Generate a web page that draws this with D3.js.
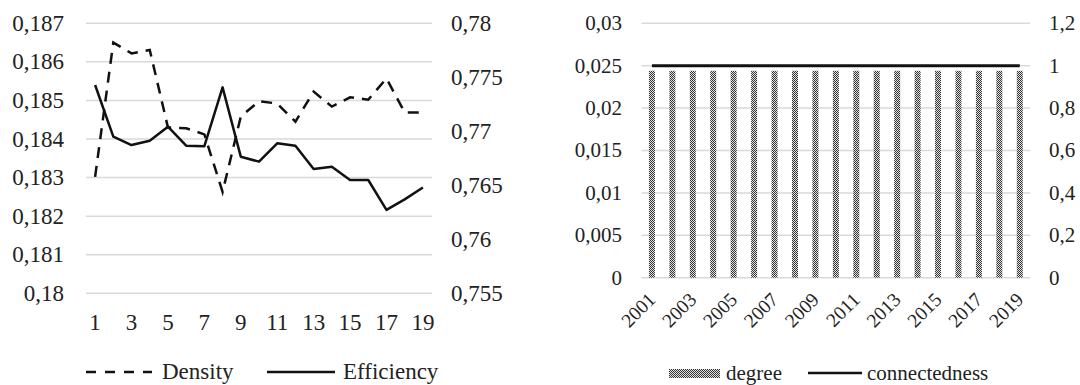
<!DOCTYPE html>
<html><head><meta charset="utf-8">
<script src="https://cdn.jsdelivr.net/npm/d3@7"></script>
<style>
html,body{margin:0;padding:0;background:#fff;}
svg{display:block;}
</style></head>
<body>
<svg id="chart" width="1080" height="385"></svg>
<script>
// ---- Left chart data ----
const periods = [1,2,3,4,5,6,7,8,9,10,11,12,13,14,15,16,17,18,19];
const periodTicks = [1,3,5,7,9,11,13,15,17,19];
const density = [0.18302,0.1865,0.18622,0.18631,0.1843,0.18428,0.18412,0.18263,0.18458,0.18498,0.18492,0.18445,0.18523,0.18484,0.18508,0.18502,0.18557,0.18469,0.18469];
const efficiency = [0.77429,0.7695,0.76873,0.76913,0.77043,0.76867,0.76862,0.77407,0.76765,0.76719,0.76889,0.76867,0.76651,0.76672,0.76549,0.76549,0.76272,0.7637,0.7648];
const densityTicks = [0.18,0.181,0.182,0.183,0.184,0.185,0.186,0.187];
const efficiencyTicks = [0.755,0.76,0.765,0.77,0.775,0.78];

// ---- Right chart data ----
const years = [2001,2002,2003,2004,2005,2006,2007,2008,2009,2010,2011,2012,2013,2014,2015,2016,2017,2018,2019];
const yearTicks = [2001,2003,2005,2007,2009,2011,2013,2015,2017,2019];
const degree = [0.0244,0.0244,0.0244,0.0244,0.0244,0.0244,0.0244,0.0244,0.0244,0.0244,0.0244,0.0244,0.0244,0.0244,0.0244,0.0244,0.0244,0.0244,0.0244];
const connectedness = [1,1,1,1,1,1,1,1,1,1,1,1,1,1,1,1,1,1,1];
const degreeTicks = [0,0.005,0.01,0.015,0.02,0.025,0.03];
const connTicks = [0,0.2,0.4,0.6,0.8,1,1.2];

const FONT = "'Liberation Serif', 'Times New Roman', Times, Tinos, 'Noto Serif', 'DejaVu Serif', FreeSerif, serif";
const fmt = v => String(+v.toFixed(4)).replace('.', ',');
const svg = d3.select('#chart').style('font-family', FONT);
const gridColor = '#d9d9d9';

// pattern
const defs = svg.append('defs');
const pat = defs.append('pattern').attr('id','checker').attr('patternUnits','userSpaceOnUse')
  .attr('width',2).attr('height',2);
pat.append('rect').attr('width',2).attr('height',2).attr('fill','#e2e2e2');
pat.append('rect').attr('width',1).attr('height',1).attr('fill','#333');
pat.append('rect').attr('x',1).attr('y',1).attr('width',1).attr('height',1).attr('fill','#333');

function txt(sel){ return sel.style('font-family', FONT).attr('fill','#222'); }

// ================= LEFT CHART =================
(function(){
  const L = {x0:86, x1:432, yTop:23.3, yBot:293.3};
  const fs = 23;
  const x = d3.scalePoint().domain(periods).range([L.x0, L.x1]).padding(0.5);
  const yL = d3.scaleLinear().domain([0.18,0.187]).range([L.yBot, L.yTop]);
  const yR = d3.scaleLinear().domain([0.755,0.78]).range([L.yBot, L.yTop]);
  const g = svg.append('g');

  g.selectAll('line.grid').data(densityTicks).join('line')
    .attr('x1',L.x0).attr('x2',L.x1).attr('y1',d=>yL(d)).attr('y2',d=>yL(d))
    .attr('stroke',gridColor).attr('stroke-width',1.5);

  txt(g.selectAll('text.yl').data(densityTicks).join('text'))
    .attr('x',64).attr('y',d=>yL(d)).attr('dy','0.33em').attr('text-anchor','end')
    .attr('font-size',fs).text(fmt);
  txt(g.selectAll('text.yr').data(efficiencyTicks).join('text'))
    .attr('x',451).attr('y',d=>yR(d)).attr('dy','0.33em').attr('text-anchor','start')
    .attr('font-size',fs).text(fmt);
  txt(g.selectAll('text.xl').data(periodTicks).join('text'))
    .attr('x',d=>x(d)).attr('y',330).attr('text-anchor','middle')
    .attr('font-size',fs).text(d=>d);

  const lineD = d3.line().x((d,i)=>x(periods[i])).y(d=>yL(d));
  const lineE = d3.line().x((d,i)=>x(periods[i])).y(d=>yR(d));
  g.append('path').attr('d',lineD(density)).attr('fill','none').attr('stroke','#111')
    .attr('stroke-width',2.5).attr('stroke-dasharray','11,8');
  g.append('path').attr('d',lineE(efficiency)).attr('fill','none').attr('stroke','#111')
    .attr('stroke-width',2.5).attr('stroke-linejoin','round');

  // legend
  g.append('line').attr('x1',86).attr('x2',152).attr('y1',372).attr('y2',372)
    .attr('stroke','#111').attr('stroke-width',2.5).attr('stroke-dasharray','10,9');
  txt(g.append('text')).attr('x',162).attr('y',379).attr('font-size',fs).text('Density');
  g.append('line').attr('x1',267).attr('x2',335).attr('y1',372).attr('y2',372)
    .attr('stroke','#111').attr('stroke-width',2.5);
  txt(g.append('text')).attr('x',343).attr('y',379).attr('font-size',fs).text('Efficiency');
})();

// ================= RIGHT CHART =================
(function(){
  const R = {x0:641.7, x1:1030, yTop:23.3, yBot:277.7};
  const fs = 21;
  const x = d3.scaleBand().domain(years).range([R.x0, R.x1]);
  const yL = d3.scaleLinear().domain([0,0.03]).range([R.yBot, R.yTop]);
  const yR = d3.scaleLinear().domain([0,1.2]).range([R.yBot, R.yTop]);
  const g = svg.append('g');

  g.selectAll('line.grid').data(degreeTicks).join('line')
    .attr('x1',R.x0).attr('x2',R.x1).attr('y1',d=>yL(d)).attr('y2',d=>yL(d))
    .attr('stroke',gridColor).attr('stroke-width',1.5);

  txt(g.selectAll('text.yl').data(degreeTicks).join('text'))
    .attr('x',622).attr('y',d=>yL(d)).attr('dy','0.33em').attr('text-anchor','end')
    .attr('font-size',fs).text(fmt);
  txt(g.selectAll('text.yr').data(connTicks).join('text'))
    .attr('x',1049).attr('y',d=>yR(d)).attr('dy','0.33em').attr('text-anchor','start')
    .attr('font-size',fs).text(fmt);

  const bw = 6;
  g.selectAll('rect.bar').data(degree).join('rect')
    .attr('x',(d,i)=>x(years[i])+x.bandwidth()/2-bw/2).attr('width',bw)
    .attr('y',d=>yL(d)).attr('height',d=>yL(0)-yL(d))
    .attr('fill','url(#checker)');

  const lineC = d3.line().x((d,i)=>x(years[i])+x.bandwidth()/2).y(d=>yR(d));
  g.append('path').attr('d',lineC(connectedness)).attr('fill','none')
    .attr('stroke','#111').attr('stroke-width',3);

  txt(g.selectAll('text.xl').data(yearTicks).join('text'))
    .attr('transform',d=>`translate(${x(d)+x.bandwidth()/2},${296}) rotate(-45)`)
    .attr('text-anchor','end').attr('dy','0.35em')
    .attr('font-size',19.5).text(d=>d);

  // legend
  g.append('rect').attr('x',669).attr('y',369).attr('width',51).attr('height',9).attr('fill','url(#checker)');
  txt(g.append('text')).attr('x',726).attr('y',380).attr('font-size',fs).text('degree');
  g.append('line').attr('x1',808).attr('x2',862).attr('y1',373).attr('y2',373)
    .attr('stroke','#111').attr('stroke-width',2.5);
  txt(g.append('text')).attr('x',867).attr('y',380).attr('font-size',fs).text('connectedness');
})();
</script>
</body></html>
